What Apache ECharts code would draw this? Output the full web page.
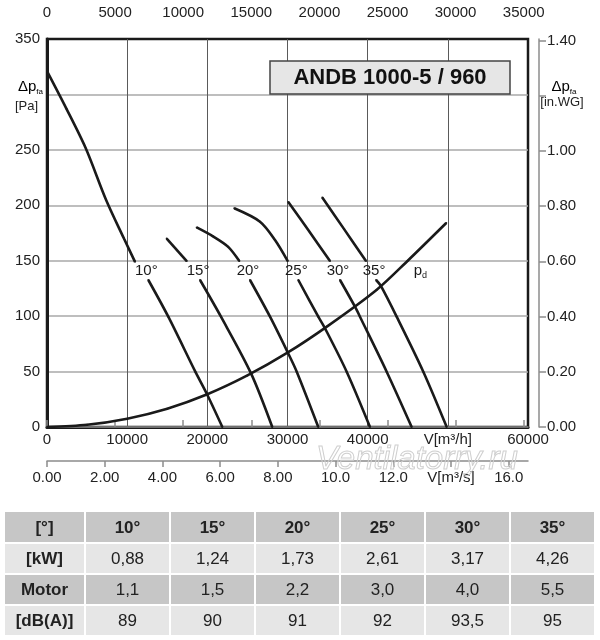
<!DOCTYPE html>
<html>
<head>
<meta charset="utf-8">
<script src="https://cdn.jsdelivr.net/npm/echarts@6/dist/echarts.min.js"></script>
<style>
  html, body { margin: 0; padding: 0; background: #fff; }
  #chart { width: 600px; height: 640px; }
</style>
</head>
<body>
<div id="chart"></div>
<script>
const FONT = '"Liberation Sans", Arial, sans-serif';
const INK = '#1a1a1a';

// blade angle curves, [V m³/h, Δp Pa]; upper = stall side above the label, lower = below it
const angles = ['10°', '15°', '20°', '25°', '30°', '35°'];
const upper10 = [[0, 321], [2430, 287], [4860, 251], [7360, 205], [9600, 170], [10980, 149]];
const lower10 = [[12640, 132.6], [15130, 99.5], [18500, 49.9], [19900, 30.4], [21870, 0]];
const upper15 = [[14930, 170], [17430, 149.7]];
const lower15 = [[19090, 132.6], [21700, 99.5], [25450, 48.4], [28100, 0]];
const upper20 = [[18670, 180], [20700, 172], [22600, 162.5], [23990, 149.7]];
const lower20 = [[25320, 132.6], [27820, 99.5], [30020, 67.4], [31150, 49.9], [33840, 0]];
const upper25 = [[23360, 197.3], [26570, 185.2], [28440, 168.7], [30030, 149.7]];
const lower25 = [[31350, 132.6], [33840, 99.5], [34680, 89], [37380, 49.9], [40290, 0]];
const upper30 = [[30100, 203], [32700, 176.5], [35300, 149.7]];
const lower30 = [[36550, 132.6], [38420, 108.5], [39040, 99.5], [42370, 49.9], [45490, 0]];
const upper35 = [[34340, 207], [37060, 178.5], [39790, 149.7]];
const lower35 = [[41050, 132.6], [41630, 127.5], [43620, 99.5], [46940, 49.9], [49860, 0]];

// dynamic pressure p_d
const pdCurve = [[0, 0], [5000, 2], [10000, 7.5], [15000, 16.5], [20000, 29.5], [25000, 46.5],
  [30000, 67], [35000, 91], [41100, 123.6], [45000, 150], [49800, 184]];

// tick values of the secondary scales
const cfmTicks = [0, 5000, 10000, 15000, 20000, 25000, 30000, 35000];
const msTicks = [0, 2, 4, 6, 8, 10, 12, 14, 16];
const inwgTicks = [0, 0.2, 0.4, 0.6, 0.8, 1.0, 1.2, 1.4];

// table below the chart
const tableHead = ['[°]', '10°', '15°', '20°', '25°', '30°', '35°'];
const rowKw = ['[kW]', '0,88', '1,24', '1,73', '2,61', '3,17', '4,26'];
const rowMotor = ['Motor', '1,1', '1,5', '2,2', '3,0', '4,0', '5,5'];
const rowDb = ['[dB(A)]', '89', '90', '91', '92', '93,5', '95'];

const M3H_PER_CFM = 1.699;
const PA_PER_INWG = 249.09;
const V_MAX = 60000, P_MAX = 350;

const chart = echarts.init(document.getElementById('chart'), null, { renderer: 'canvas' });

const lineBase = {
  type: 'line', xAxisIndex: 0, yAxisIndex: 0,
  smooth: 0.3,
  showSymbol: true, symbol: 'circle', symbolSize: 2,
  itemStyle: { color: INK },
  lineStyle: { color: INK, width: 2.6 },
  emphasis: { disabled: true },
  silent: true, z: 5
};

const uppers = [upper10, upper15, upper20, upper25, upper30, upper35];
const lowers = [lower10, lower15, lower20, lower25, lower30, lower35];
const series = [];
angles.forEach((name, i) => {
  series.push(Object.assign({}, lineBase, { data: uppers[i] }));
  series.push(Object.assign({}, lineBase, {
    data: lowers[i].map((p, j) => j === 0 ? {
      value: p,
      label: {
        show: true, formatter: name, position: 'top', distance: 1, offset: [-2, 0],
        fontFamily: FONT, fontSize: 15, color: INK
      }
    } : p)
  }));
});
series.push(Object.assign({}, lineBase, {
  data: pdCurve.map((p, j) => j === 9 ? {
    value: p,
    label: {
      show: true, position: 'right', distance: 5, offset: [0, 10],
      formatter: '{a|p}{s|d}',
      rich: {
        a: { fontFamily: FONT, fontSize: 15, color: INK, lineHeight: 18 },
        s: { fontFamily: FONT, fontSize: 9, color: INK, lineHeight: 8, verticalAlign: 'bottom' }
      }
    }
  } : p)
}));

const labelStyle = { fontFamily: FONT, fontSize: 15, color: '#222' };
const greyLine = { color: '#8c8c8c', width: 1.5 };

// table graphics
const colX = [5, 86, 171, 256, 341, 426, 511, 596];
const rowY = [512, 544, 575, 606, 637];
const rowFill = ['#c6c6c6', '#e6e6e6', '#c6c6c6', '#e6e6e6'];
const rows = [tableHead, rowKw, rowMotor, rowDb];
const table = [];
rows.forEach((row, r) => {
  row.forEach((txt, c) => {
    const x0 = colX[c], x1 = colX[c + 1] - 2;
    const y0 = rowY[r], y1 = rowY[r + 1] - 2;
    table.push({
      type: 'rect', silent: true,
      shape: { x: x0, y: y0, width: x1 - x0, height: y1 - y0 },
      style: { fill: rowFill[r] }
    });
    table.push({
      type: 'text', silent: true, z: 10,
      x: (x0 + x1) / 2, y: (y0 + y1) / 2 + 1,
      style: {
        text: txt, align: 'center', verticalAlign: 'middle',
        font: (r === 0 || c === 0 ? 'bold ' : '') + '17px ' + FONT, fill: '#222'
      }
    });
  });
});

const dpRich = {
  a: { fontFamily: FONT, fontSize: 15, color: '#222', lineHeight: 18 },
  s: { fontFamily: FONT, fontSize: 8, color: '#222', lineHeight: 8, verticalAlign: 'bottom' }
};

chart.setOption({
  animation: false,
  backgroundColor: '#fff',
  grid: {
    left: 47, top: 39, width: 481, height: 388,
    show: true, borderColor: INK, borderWidth: 2.5, backgroundColor: 'transparent'
  },
  xAxis: [
    {
      type: 'value', position: 'bottom', min: 0, max: V_MAX, interval: 10000,
      axisLine: { show: true, onZero: false, lineStyle: { color: INK, width: 3 } },
      axisTick: { show: false },
      splitLine: { show: true, showMinLine: false, showMaxLine: false, lineStyle: { color: '#5a5a5a', width: 1 } },
      axisLabel: Object.assign({ margin: 5, formatter: v => v === 50000 ? 'V[m³/h]' : String(v) }, labelStyle)
    },
    {
      type: 'value', position: 'top', offset: 10, min: 0, max: V_MAX / M3H_PER_CFM,
      axisLine: { show: true, lineStyle: greyLine },
      axisTick: { show: true, length: 7, customValues: cfmTicks, lineStyle: greyLine },
      splitLine: { show: false },
      axisLabel: Object.assign({ margin: 9, customValues: cfmTicks, formatter: v => String(v) }, labelStyle)
    },
    {
      type: 'value', position: 'bottom', offset: 34, min: 0, max: V_MAX / 3600,
      axisLine: { show: true, onZero: false, lineStyle: greyLine },
      axisTick: { show: true, length: 6, customValues: msTicks, lineStyle: greyLine },
      splitLine: { show: false },
      axisLabel: Object.assign({
        margin: 9, customValues: msTicks,
        formatter: v => v === 14 ? 'V[m³/s]' : (v < 10 ? v.toFixed(2) : v.toFixed(1))
      }, labelStyle)
    }
  ],
  yAxis: [
    {
      type: 'value', position: 'left', min: 0, max: P_MAX, interval: 50,
      axisLine: { show: true, onZero: false, lineStyle: { color: INK, width: 3 } },
      axisTick: { show: false },
      splitLine: { show: true, showMinLine: false, showMaxLine: false, lineStyle: { color: '#a8a8a8', width: 1.5 } },
      axisLabel: Object.assign({ margin: 7, formatter: v => v === 300 ? '' : String(v) }, labelStyle)
    },
    {
      type: 'value', position: 'right', offset: 11, min: 0, max: P_MAX / PA_PER_INWG,
      axisLine: { show: true, onZero: false, lineStyle: greyLine },
      axisTick: { show: true, length: 7, customValues: inwgTicks, lineStyle: greyLine },
      splitLine: { show: false },
      axisLabel: Object.assign({
        margin: 8, customValues: inwgTicks,
        formatter: v => Math.abs(v - 1.2) < 1e-6 ? '' : v.toFixed(2)
      }, labelStyle)
    }
  ],
  series: series,
  graphic: [
    {
      type: 'rect', silent: true, z: 20,
      shape: { x: 270, y: 61, width: 240, height: 33 },
      style: { fill: '#e6e6e6', stroke: '#444', lineWidth: 1.5 }
    },
    {
      type: 'text', silent: true, z: 21, x: 390, y: 78,
      style: {
        text: 'ANDB 1000-5 / 960', align: 'center', verticalAlign: 'middle',
        font: 'bold 22px ' + FONT, fill: '#111'
      }
    },
    {
      type: 'text', silent: true, z: 21, x: 43, y: 87,
      style: { text: '{a|Δp}{s|fa}', rich: dpRich, align: 'right', verticalAlign: 'middle' }
    },
    {
      type: 'text', silent: true, z: 21, x: 38, y: 106,
      style: { text: '[Pa]', align: 'right', verticalAlign: 'middle', font: '13px ' + FONT, fill: '#222' }
    },
    {
      type: 'text', silent: true, z: 21, x: 564, y: 87,
      style: { text: '{a|Δp}{s|fa}', rich: dpRich, align: 'center', verticalAlign: 'middle' }
    },
    {
      type: 'text', silent: true, z: 21, x: 562, y: 102,
      style: { text: '[in.WG]', align: 'center', verticalAlign: 'middle', font: '13px ' + FONT, fill: '#222' }
    },
    {
      type: 'text', silent: true, z: 30, x: 316, y: 443,
      style: {
        text: 'Ventilatorry.ru', font: 'italic 33px ' + FONT,
        fill: 'rgba(255,255,255,0)', stroke: '#cfcfcf', lineWidth: 1
      }
    }
  ].concat(table)
});
</script>
</body>
</html>
